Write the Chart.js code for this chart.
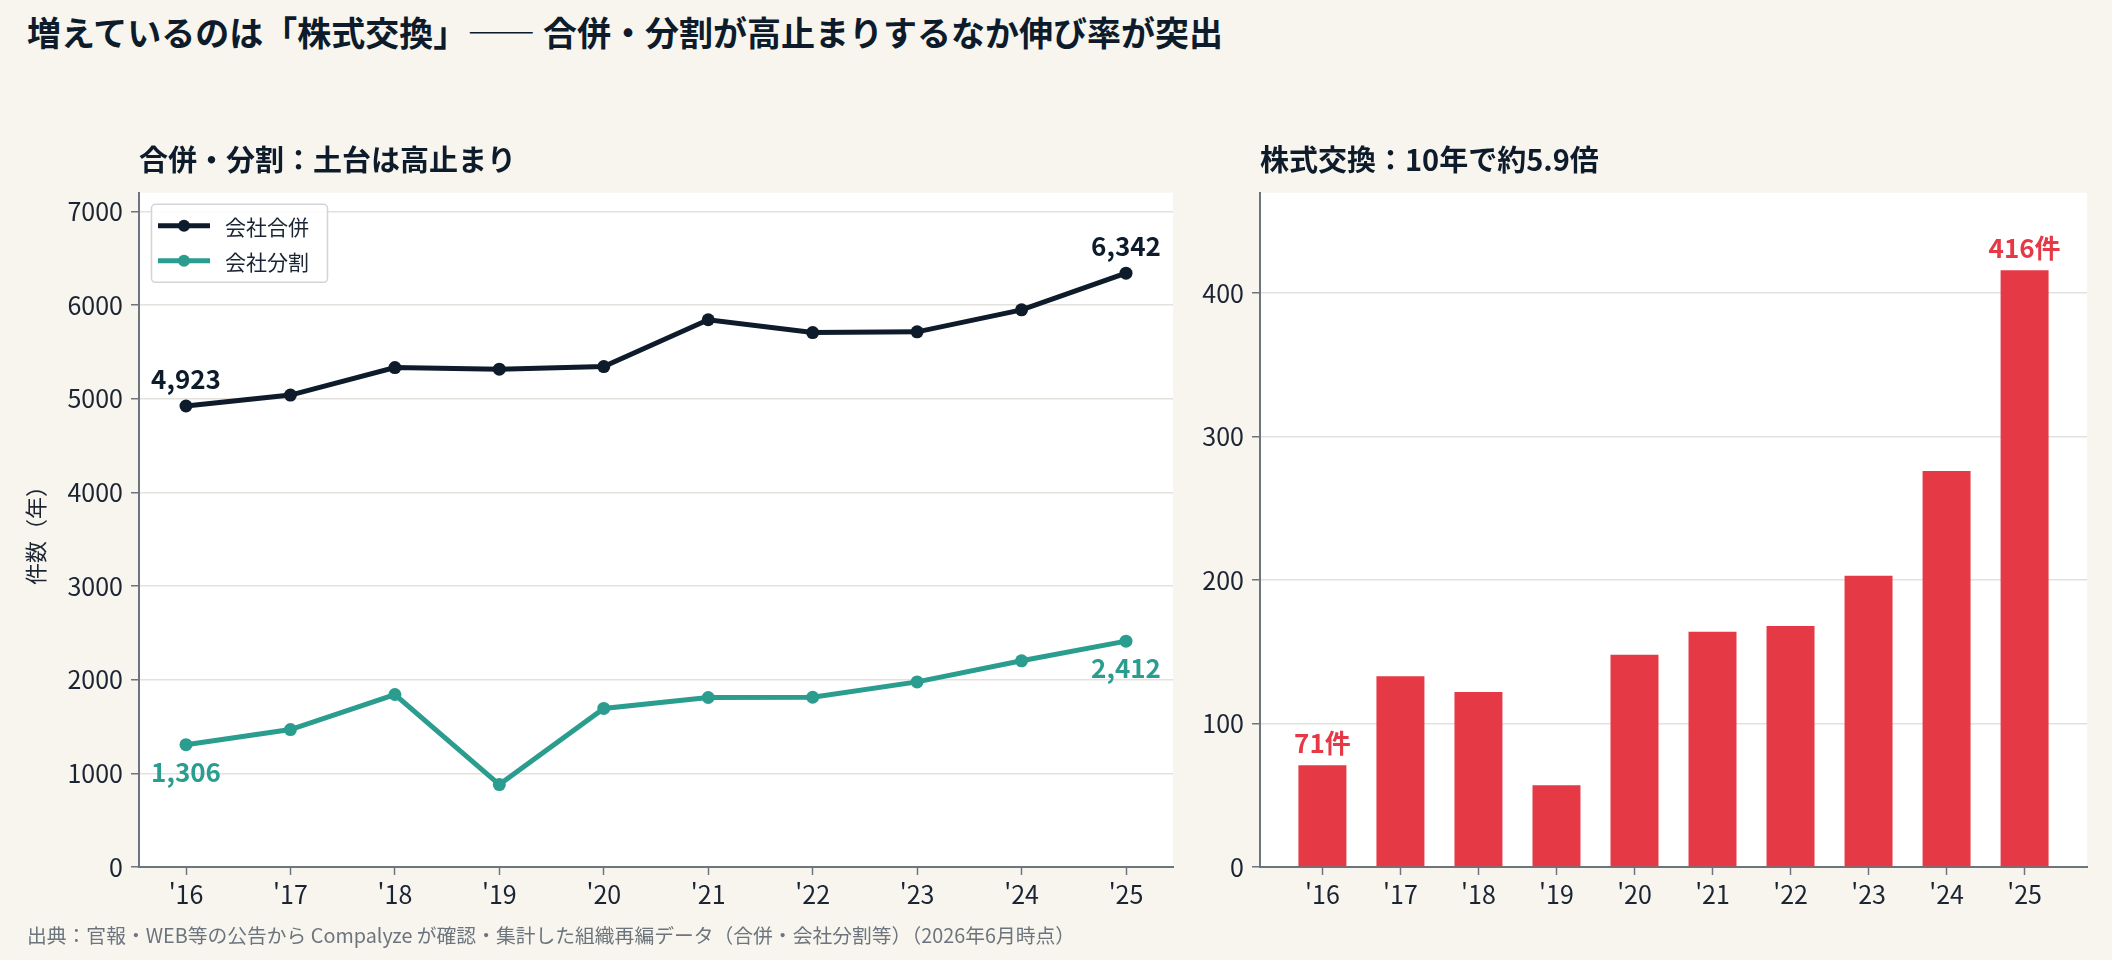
<!DOCTYPE html>
<html lang="ja">
<head>
<meta charset="utf-8">
<script src="https://cdn.jsdelivr.net/npm/chart.js@4.4.1/dist/chart.umd.min.js"></script>
<style>
  html, body { margin: 0; padding: 0; }
  body { width: 2112px; height: 960px; background: #f8f5ef; position: relative; overflow: hidden;
         font-family: "Noto Sans CJK JP", "Noto Sans", sans-serif; }
  #title { position: absolute; left: 27px; top: 10px; font-size: 34px; line-height: 44px; font-weight: 700; color: #0d1b2a; white-space: nowrap; }
  #footer { position: absolute; left: 27px; top: 922px; font-size: 19.8px; line-height: 26px; color: #6c757d; white-space: nowrap; }
  #wrapL { position: absolute; left: 0; top: 130px; width: 1190px; height: 797px; }
  #wrapR { position: absolute; left: 1180px; top: 130px; width: 932px; height: 797px; }
</style>
</head>
<body>
<div id="title">増えているのは「株式交換」—— 合併・分割が高止まりするなか伸び率が突出</div>
<div id="wrapL"><canvas id="left"></canvas></div>
<div id="wrapR"><canvas id="right"></canvas></div>
<div id="footer">出典：官報・WEB等の公告から Compalyze が確認・集計した組織再編データ（合併・会社分割等）（2026年6月時点）</div>
<script>
// ---- data ----
const years = ["'16", "'17", "'18", "'19", "'20", "'21", "'22", "'23", "'24", "'25"];
const mergers = [4923, 5040, 5333, 5316, 5344, 5844, 5707, 5715, 5950, 6342];
const splits = [1306, 1468, 1842, 880, 1693, 1810, 1813, 1977, 2202, 2412];
const shareExchange = [71, 133, 122, 57, 148, 164, 168, 203, 276, 416];
const seriesNames = ["会社合併", "会社分割"];
const leftYTicks = [0, 1000, 2000, 3000, 4000, 5000, 6000, 7000];
const rightYTicks = [0, 100, 200, 300, 400];
const leftTitle = "合併・分割：土台は高止まり";
const rightTitle = "株式交換：10年で約5.9倍";
const yTitle = "件数（年）";

// ---- styles ----
const NAVY = '#0d1b2a', TEAL = '#2a9d8f', RED = '#e63946';
const GRID = '#e4e1dc', AXIS = '#6c757d', TEXT = '#1b2433';
const FONT = '"Noto Sans CJK JP", "Noto Sans", sans-serif';
Chart.defaults.font.family = FONT;
Chart.defaults.color = TEXT;
Chart.defaults.animation = false;

const toXY = arr => arr.map((v, i) => ({x: i, y: v}));
const setTicks = list => (s => { s.ticks = list.map(v => ({value: v})); });

const whiteArea = {
  id: 'whiteArea',
  beforeDraw(chart) {
    const {ctx, chartArea: a} = chart;
    ctx.save();
    ctx.fillStyle = '#ffffff';
    ctx.fillRect(a.left, a.top, a.right - a.left, a.bottom - a.top);
    ctx.restore();
  }
};

const endLabels = {
  id: 'endLabels',
  afterDatasetsDraw(chart, args, opts) {
    const {ctx} = chart;
    ctx.save();
    (opts.items || []).forEach(it => {
      const el = chart.getDatasetMeta(it.ds).data[it.idx];
      const v = chart.data.datasets[it.ds].data[it.idx].y;
      ctx.font = `700 ${it.size}px ${FONT}`;
      ctx.fillStyle = it.color;
      ctx.textAlign = 'center';
      ctx.textBaseline = 'middle';
      ctx.fillText(it.fmt(v), el.x, el.y + it.dy);
    });
    ctx.restore();
  }
};

// matplotlib-like legend inside the plot (upper left)
const innerLegend = {
  id: 'innerLegend',
  afterDatasetsDraw(chart) {
    const {ctx, chartArea: a} = chart;
    const x = a.left + 12, y = a.top + 11, w = 176, h = 78;
    ctx.save();
    ctx.fillStyle = 'rgba(255,255,255,0.85)';
    ctx.strokeStyle = '#d4d4d4';
    ctx.lineWidth = 1.5;
    ctx.beginPath();
    if (ctx.roundRect) ctx.roundRect(x + 0.5, y + 0.5, w, h, 4); else ctx.rect(x + 0.5, y + 0.5, w, h);
    ctx.fill(); ctx.stroke();
    chart.data.datasets.forEach((d, i) => {
      const cy = y + 22 + i * 35;
      ctx.strokeStyle = d.borderColor; ctx.lineWidth = 5;
      ctx.beginPath(); ctx.moveTo(a.left + 19, cy); ctx.lineTo(a.left + 71, cy); ctx.stroke();
      ctx.fillStyle = d.borderColor;
      ctx.beginPath(); ctx.arc(a.left + 45, cy, 6, 0, Math.PI * 2); ctx.fill();
      ctx.fillStyle = TEXT;
      ctx.font = `400 21px ${FONT}`;
      ctx.textAlign = 'left'; ctx.textBaseline = 'middle';
      ctx.fillText(d.label, a.left + 86, cy + 1);
    });
    ctx.restore();
  }
};

const tickFont = {size: 25, family: FONT};

new Chart(document.getElementById('left'), {
  type: 'line',
  data: {
    datasets: [
      {label: seriesNames[0], data: toXY(mergers), borderColor: NAVY, backgroundColor: NAVY,
       borderWidth: 5, pointRadius: 6.5, pointBackgroundColor: NAVY, pointBorderWidth: 0, tension: 0},
      {label: seriesNames[1], data: toXY(splits), borderColor: TEAL, backgroundColor: TEAL,
       borderWidth: 5, pointRadius: 6.5, pointBackgroundColor: TEAL, pointBorderWidth: 0, tension: 0}
    ]
  },
  options: {
    responsive: true, maintainAspectRatio: false,
    layout: {padding: {left: 0, right: 17, top: 0, bottom: 0}},
    plugins: {
      title: {display: true, text: leftTitle, align: 'start', fullSize: false, color: NAVY,
              font: {size: 29, weight: '700', family: FONT, lineHeight: 1.2}, padding: {top: 13, bottom: 15}},
      legend: {display: false},
      tooltip: {enabled: false},
      endLabels: {items: [
        {ds: 0, idx: 0, dy: -27, size: 26, color: NAVY, fmt: v => v.toLocaleString('en-US')},
        {ds: 0, idx: 9, dy: -27, size: 26, color: NAVY, fmt: v => v.toLocaleString('en-US')},
        {ds: 1, idx: 0, dy: 27, size: 26, color: TEAL, fmt: v => v.toLocaleString('en-US')},
        {ds: 1, idx: 9, dy: 27, size: 26, color: TEAL, fmt: v => v.toLocaleString('en-US')}
      ]}
    },
    scales: {
      x: {
        type: 'linear', min: -0.45, max: 9.45,
        afterFit: s => { s.height = 60; },
        ticks: {stepSize: 1, includeBounds: false, font: tickFont, color: TEXT, padding: 4, maxRotation: 0,
                callback: v => Number.isInteger(v) ? years[v] : null},
        grid: {offset: false, drawOnChartArea: false, drawTicks: true, tickLength: 8, tickColor: AXIS, tickWidth: 1.5},
        border: {display: true, color: AXIS, width: 2}
      },
      y: {
        min: 0, max: 7200,
        afterBuildTicks: setTicks(leftYTicks),
        afterFit: s => { s.width = 139; },
        ticks: {font: tickFont, color: TEXT, padding: 8, callback: v => String(v)},
        grid: {color: GRID, lineWidth: 1.5, drawTicks: true, tickLength: 8, tickColor: AXIS, tickWidth: 1.5},
        border: {display: true, color: AXIS, width: 2},
        title: {display: true, text: yTitle, color: TEXT, font: {size: 22, family: FONT}, padding: {top: 22, bottom: 0}}
      }
    }
  },
  plugins: [whiteArea, endLabels, innerLegend]
});

new Chart(document.getElementById('right'), {
  type: 'bar',
  data: {
    datasets: [
      {label: '株式交換', data: toXY(shareExchange), backgroundColor: RED, borderWidth: 0,
       barPercentage: 0.615, categoryPercentage: 1}
    ]
  },
  options: {
    responsive: true, maintainAspectRatio: false,
    layout: {padding: {left: 0, right: 25, top: 0, bottom: 0}},
    plugins: {
      title: {display: true, text: rightTitle, align: 'start', fullSize: false, color: NAVY,
              font: {size: 29, weight: '700', family: FONT, lineHeight: 1.2}, padding: {top: 13, bottom: 15}},
      legend: {display: false},
      tooltip: {enabled: false},
      endLabels: {items: [
        {ds: 0, idx: 0, dy: -22, size: 26, color: RED, fmt: v => v + '件'},
        {ds: 0, idx: 9, dy: -22, size: 26, color: RED, fmt: v => v + '件'}
      ]}
    },
    scales: {
      x: {
        type: 'linear', min: -0.8, max: 9.8, offset: false,
        afterFit: s => { s.height = 60; },
        ticks: {stepSize: 1, includeBounds: false, font: tickFont, color: TEXT, padding: 4, maxRotation: 0,
                callback: v => Number.isInteger(v) ? years[v] : null},
        grid: {offset: false, drawOnChartArea: false, drawTicks: true, tickLength: 8, tickColor: AXIS, tickWidth: 1.5},
        border: {display: true, color: AXIS, width: 2}
      },
      y: {
        min: 0, max: 470,
        afterBuildTicks: setTicks(rightYTicks),
        afterFit: s => { s.width = 80; },
        ticks: {font: tickFont, color: TEXT, padding: 8, callback: v => String(v)},
        grid: {color: GRID, lineWidth: 1.5, drawTicks: true, tickLength: 8, tickColor: AXIS, tickWidth: 1.5},
        border: {display: true, color: AXIS, width: 2}
      }
    }
  },
  plugins: [whiteArea, endLabels]
});
</script>
</body>
</html>
